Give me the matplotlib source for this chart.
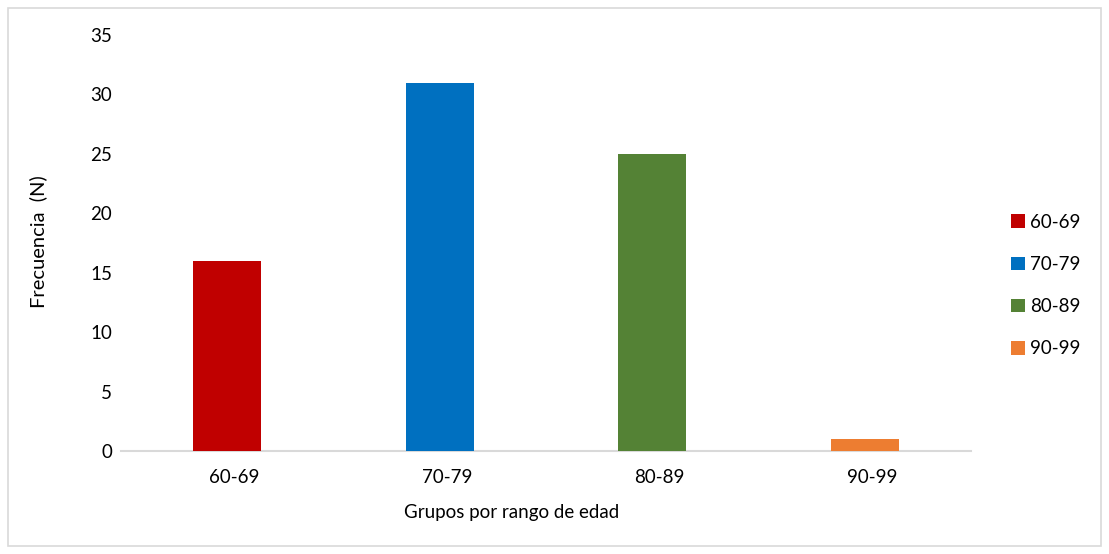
import matplotlib
matplotlib.use("Agg")
import matplotlib.pyplot as plt
import matplotlib.transforms as mtransforms
from matplotlib.patches import Rectangle, Patch

# Data
categories = ["60-69", "70-79", "80-89", "90-99"]
frequencies = [16, 31, 25, 1]
bar_colors = ["#C00000", "#0070C0", "#548235", "#ED7D31"]
y_ticks = [0, 5, 10, 15, 20, 25, 30, 35]

plt.rcParams["font.family"] = ["Lato", "DejaVu Sans"]

W, H = 1109, 554
fig = plt.figure(figsize=(W / 100, H / 100), dpi=100)
ax = fig.add_axes([121 / W, 1 - 451 / H, 850 / W, 416 / H])

x = range(len(categories))
ax.bar(x, frequencies, width=0.32, color=bar_colors, zorder=3)

ax.set_xlim(-0.5, len(categories) - 0.5)
ax.set_ylim(0, 35)
ax.set_yticks(y_ticks)
ax.set_xticks(list(x))
ax.set_xticklabels(categories)

for side in ["top", "right", "left"]:
    ax.spines[side].set_visible(False)
ax.spines["bottom"].set_color("#d9d9d9")
ax.spines["bottom"].set_linewidth(1.5)
ax.tick_params(axis="both", length=0, labelsize=13.5, colors="#000000")
ax.tick_params(axis="y", pad=6.5)
ax.tick_params(axis="x", pad=13)

# nudge category labels slightly to the right
shift = mtransforms.ScaledTranslation(7 / 100, 0, fig.dpi_scale_trans)
for lbl in ax.get_xticklabels():
    lbl.set_transform(lbl.get_transform() + shift)

ax.set_xlabel("Grupos por rango de edad", fontsize=13.5)
ax.xaxis.set_label_coords((512 - 121) / 850, (451 - 504) / 416)
ax.set_ylabel("Frecuencia  (N)", fontsize=14.5)
ax.yaxis.set_label_coords((47 - 121) / 850, (451 - 242) / 416)

handles = [Patch(facecolor=c, edgecolor="none") for c in bar_colors]
fig.legend(handles, categories, loc="center left",
           bbox_to_anchor=(1011 / W, 1 - 285.5 / H), frameon=False,
           fontsize=13.5, handlelength=0.72, handleheight=0.72,
           handletextpad=0.3, labelspacing=1.35, borderpad=0,
           borderaxespad=0)

# Outer chart border
fig.patches.append(Rectangle((8 / W, 8 / H), 1 - 16 / W, 1 - 16 / H,
                             transform=fig.transFigure, fill=False,
                             edgecolor="#d9d9d9", linewidth=1.2))

fig.savefig("out.png", dpi=100)
